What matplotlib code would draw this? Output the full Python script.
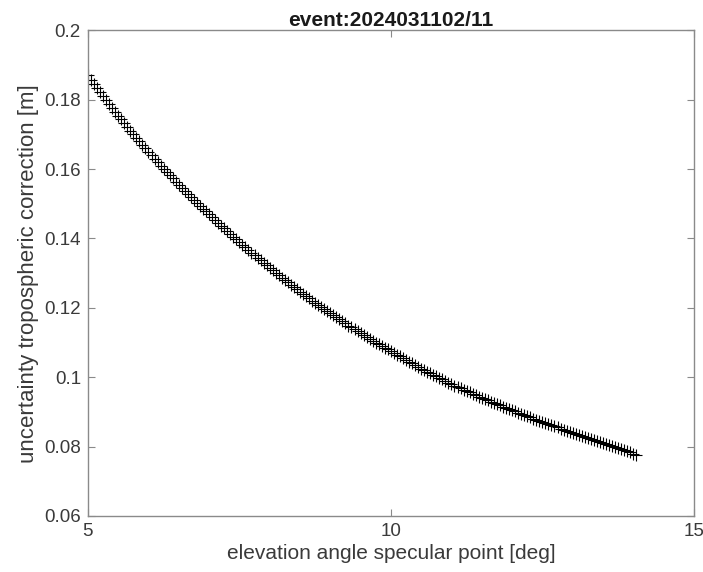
import matplotlib
matplotlib.use("Agg")
import matplotlib.pyplot as plt

elevation_deg = [
    5.00, 5.05, 5.10, 5.15, 5.20, 5.25, 5.30, 5.35, 5.40, 5.45,
    5.50, 5.55, 5.60, 5.65, 5.70, 5.75, 5.80, 5.85, 5.90, 5.95,
    6.00, 6.05, 6.10, 6.15, 6.20, 6.25, 6.30, 6.35, 6.40, 6.45,
    6.50, 6.55, 6.60, 6.65, 6.70, 6.75, 6.80, 6.85, 6.90, 6.95,
    7.00, 7.05, 7.10, 7.15, 7.20, 7.25, 7.30, 7.35, 7.40, 7.45,
    7.50, 7.55, 7.60, 7.65, 7.70, 7.75, 7.80, 7.85, 7.90, 7.95,
    8.00, 8.05, 8.10, 8.15, 8.20, 8.25, 8.30, 8.35, 8.40, 8.45,
    8.50, 8.55, 8.60, 8.65, 8.70, 8.75, 8.80, 8.85, 8.90, 8.95,
    9.00, 9.05, 9.10, 9.15, 9.20, 9.25, 9.30, 9.35, 9.40, 9.45,
    9.50, 9.55, 9.60, 9.65, 9.70, 9.75, 9.80, 9.85, 9.90, 9.95,
    10.00, 10.05, 10.10, 10.15, 10.20, 10.25, 10.30, 10.35, 10.40, 10.45,
    10.50, 10.55, 10.60, 10.65, 10.70, 10.75, 10.80, 10.85, 10.90, 10.95,
    11.00, 11.05, 11.10, 11.15, 11.20, 11.25, 11.30, 11.35, 11.40, 11.45,
    11.50, 11.55, 11.60, 11.65, 11.70, 11.75, 11.80, 11.85, 11.90, 11.95,
    12.00, 12.05, 12.10, 12.15, 12.20, 12.25, 12.30, 12.35, 12.40, 12.45,
    12.50, 12.55, 12.60, 12.65, 12.70, 12.75, 12.80, 12.85, 12.90, 12.95,
    13.00, 13.05, 13.10, 13.15, 13.20, 13.25, 13.30, 13.35, 13.40, 13.45,
    13.50, 13.55, 13.60, 13.65, 13.70, 13.75, 13.80, 13.85, 13.90, 13.95,
    14.00, 14.05,
]
uncertainty_m = [
    0.18700, 0.18580, 0.18460, 0.18340, 0.18220, 0.18105, 0.17990, 0.17875, 0.17760, 0.17650,
    0.17540, 0.17430, 0.17320, 0.17215, 0.17110, 0.17005, 0.16900, 0.16800, 0.16700, 0.16600,
    0.16500, 0.16400, 0.16300, 0.16200, 0.16100, 0.16005, 0.15910, 0.15820, 0.15730, 0.15640,
    0.15550, 0.15460, 0.15370, 0.15285, 0.15200, 0.15115, 0.15030, 0.14945, 0.14860, 0.14780,
    0.14700, 0.14615, 0.14530, 0.14450, 0.14370, 0.14290, 0.14210, 0.14130, 0.14050, 0.13970,
    0.13890, 0.13815, 0.13740, 0.13665, 0.13590, 0.13515, 0.13440, 0.13365, 0.13290, 0.13220,
    0.13150, 0.13080, 0.13010, 0.12940, 0.12870, 0.12800, 0.12730, 0.12665, 0.12600, 0.12535,
    0.12470, 0.12405, 0.12340, 0.12275, 0.12210, 0.12150, 0.12090, 0.12030, 0.11970, 0.11910,
    0.11850, 0.11790, 0.11730, 0.11670, 0.11610, 0.11550, 0.11490, 0.11435, 0.11380, 0.11325,
    0.11270, 0.11215, 0.11160, 0.11105, 0.11050, 0.11000, 0.10950, 0.10900, 0.10850, 0.10800,
    0.10750, 0.10700, 0.10650, 0.10600, 0.10550, 0.10500, 0.10450, 0.10400, 0.10350, 0.10300,
    0.10250, 0.10205, 0.10160, 0.10115, 0.10070, 0.10025, 0.09980, 0.09935, 0.09890, 0.09845,
    0.09800, 0.09760, 0.09720, 0.09680, 0.09640, 0.09600, 0.09560, 0.09520, 0.09480, 0.09440,
    0.09400, 0.09365, 0.09330, 0.09295, 0.09260, 0.09225, 0.09190, 0.09155, 0.09120, 0.09085,
    0.09050, 0.09015, 0.08980, 0.08945, 0.08910, 0.08875, 0.08840, 0.08805, 0.08770, 0.08735,
    0.08700, 0.08670, 0.08640, 0.08610, 0.08580, 0.08550, 0.08520, 0.08490, 0.08460, 0.08430,
    0.08400, 0.08370, 0.08340, 0.08310, 0.08280, 0.08250, 0.08220, 0.08190, 0.08160, 0.08130,
    0.08100, 0.08070, 0.08040, 0.08010, 0.07980, 0.07950, 0.07920, 0.07890, 0.07860, 0.07830,
    0.07800, 0.07770,
]
x_ticks = [5, 10, 15]
y_ticks = [0.06, 0.08, 0.1, 0.12, 0.14, 0.16, 0.18, 0.2]
y_tick_labels = ["0.06", "0.08", "0.1", "0.12", "0.14", "0.16", "0.18", "0.2"]

plt.rcParams['font.family'] = ['Liberation Sans', 'DejaVu Sans']

fig = plt.figure(figsize=(7.03, 5.72), dpi=100)
ax = fig.add_axes([0.125, 0.098, 0.862, 0.849])

ax.plot(elevation_deg, uncertainty_m, linestyle='none', marker='+',
        markersize=8.5, markeredgewidth=0.8, color='black')

ax.set_xlim(5, 15)
ax.set_ylim(0.06, 0.2)
ax.set_xticks(x_ticks)
ax.set_xticklabels([str(t) for t in x_ticks])
ax.set_yticks(y_ticks)
ax.set_yticklabels(y_tick_labels)

axis_color = '#8a8a8a'
label_color = '#3a3a3a'
for s in ax.spines.values():
    s.set_color(axis_color)
    s.set_linewidth(1.0)
ax.tick_params(direction='in', length=5, width=0.8, color=axis_color,
               labelcolor=label_color, labelsize=13.5, top=True, right=True, pad=5)

ax.set_xlabel('elevation angle specular point [deg]', fontsize=15, color=label_color, labelpad=3)
ax.set_ylabel('uncertainty tropospheric correction [m]', fontsize=16, color=label_color, labelpad=4)
ax.set_title('event:2024031102/11', fontsize=15, fontweight='bold', color='#1a1a1a', pad=3)

fig.savefig('out.png', dpi=100, facecolor='white')
